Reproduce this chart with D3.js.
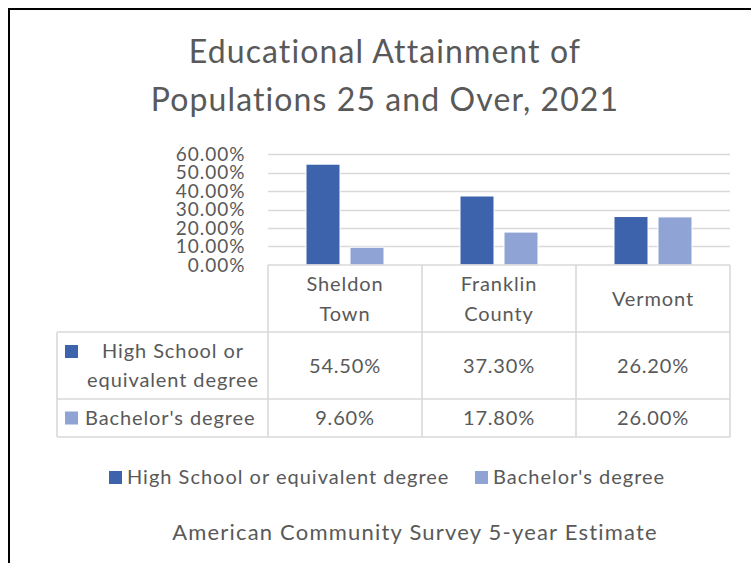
<!DOCTYPE html>
<html>
<head>
<meta charset="utf-8">
<script src="https://cdn.jsdelivr.net/npm/d3@7"></script>
<style>
  html, body { margin: 0; padding: 0; background: #fff; }
  svg { display: block; font-family: Lato, "Open Sans", sans-serif; }
</style>
</head>
<body>
<svg id="chart" width="751" height="563"></svg>
<script>
// Educational attainment, population 25 and over (ACS 5-year, 2021)
const categories = [["Sheldon", "Town"], ["Franklin", "County"], ["Vermont"]];
const seriesNames = ["High School or equivalent degree", "Bachelor's degree"];
const seriesRowLabels = [["High School or", "equivalent degree"], ["Bachelor's degree"]];
const highSchool = [0.545, 0.373, 0.262];
const bachelors = [0.096, 0.178, 0.26];
const yTicks = [0, 0.1, 0.2, 0.3, 0.4, 0.5, 0.6];
const colors = ["#3d63ad", "#8fa4d4"];

const textColor = "#595959";
const lineColor = "#d9d9d9";
const svg = d3.select("#chart");

// shared text styling: size in px plus tracking
function styled(sel, size, spacing) {
  return sel.attr("fill", textColor)
    .style("font-size", size + "px")
    .style("letter-spacing", spacing + "px");
}

// chart frame
svg.append("rect")
  .attr("x", 9).attr("y", 9).attr("width", 760).attr("height", 580)
  .attr("fill", "#fff").attr("stroke", "#000").attr("stroke-width", 2);

// title
const title = styled(svg.append("text").attr("text-anchor", "middle"), 32, 1.1);
title.append("tspan").attr("x", 385).attr("y", 63).text("Educational Attainment of");
title.append("tspan").attr("x", 385).attr("y", 111).text("Populations 25 and Over, 2021");

// scales
const catKeys = categories.map(c => c.join(" "));
const x = d3.scaleBand().domain(catKeys).range([268, 730]).paddingInner(0).paddingOuter(0);
const xs = d3.scaleBand().domain(seriesNames).range([38, 116]).paddingInner(0.2273);
const y = d3.scaleLinear().domain([0, 0.6]).range([265, 154]);
const values = [highSchool, bachelors];
const pct = d3.format(".2%");

// gridlines
svg.append("g").selectAll("line").data(yTicks.slice(1)).join("line")
  .attr("x1", 268).attr("x2", 730)
  .attr("y1", d => Math.round(y(d)) + 0.5).attr("y2", d => Math.round(y(d)) + 0.5)
  .attr("stroke", lineColor).attr("stroke-width", 1.6);

// y axis labels
const yAxis = d3.axisLeft(y).tickValues(yTicks).tickFormat(pct).tickSize(0).tickPadding(0);
const yg = svg.append("g").attr("transform", "translate(245.5,0)").call(yAxis);
yg.select(".domain").remove();
styled(yg.selectAll("text"), 19, 1)
  .style("font-family", "Lato, sans-serif").attr("dy", "0.34em");

// bars
seriesNames.forEach((s, si) => {
  svg.append("g").selectAll("rect").data(values[si]).join("rect")
    .attr("x", (d, i) => x(catKeys[i]) + xs(s))
    .attr("width", xs.bandwidth())
    .attr("y", d => y(d))
    .attr("height", d => y(0) - y(d))
    .attr("fill", colors[si])
    .attr("stroke", "#fff").attr("stroke-width", 1);
});

// data table grid
const rowY = [265, 332, 399, 437];
const tableLeft = 57;
const g = svg.append("g").attr("stroke", lineColor).attr("stroke-width", 1.6).attr("fill", "none");
g.append("line").attr("x1", 268).attr("x2", 730).attr("y1", rowY[0]).attr("y2", rowY[0]);
rowY.slice(1).forEach(ry => g.append("line").attr("x1", tableLeft).attr("x2", 730).attr("y1", ry).attr("y2", ry));
const colX = [268, ...catKeys.map(k => x(k) + x.bandwidth())];
colX.forEach(cx => g.append("line").attr("x1", cx).attr("x2", cx).attr("y1", rowY[0]).attr("y2", rowY[3]));
g.append("line").attr("x1", tableLeft).attr("x2", tableLeft).attr("y1", rowY[1]).attr("y2", rowY[3]);

// category header labels
const lineH = 30;
categories.forEach((c, i) => {
  const cx = x(catKeys[i]) + x.bandwidth() / 2;
  const cy = (rowY[0] + rowY[1]) / 2;
  const t = styled(svg.append("text").attr("text-anchor", "middle"), 20, 0.9);
  c.forEach((line, li) => {
    t.append("tspan").attr("x", cx)
      .attr("y", cy + (li - (c.length - 1) / 2) * lineH).attr("dy", "0.35em").text(line);
  });
});

// row labels with legend keys, then the values
seriesRowLabels.forEach((lines, si) => {
  const cy = (rowY[si + 1] + rowY[si + 2]) / 2;
  const keyY = lines.length > 1 ? cy - 14 : cy;
  svg.append("rect").attr("x", 65).attr("y", keyY - 6.5).attr("width", 13).attr("height", 13).attr("fill", colors[si]);
  const multi = lines.length > 1;
  const t = styled(svg.append("text").attr("text-anchor", multi ? "middle" : "start"), 20, 0.9);
  lines.forEach((line, li) => {
    t.append("tspan").attr("x", multi ? 173 : 85)
      .attr("y", cy + (li - (lines.length - 1) / 2) * 28.5).attr("dy", "0.35em").text(line);
  });
  styled(svg.append("g").selectAll("text").data(values[si]).join("text")
    .attr("x", (d, i) => x(catKeys[i]) + x.bandwidth() / 2)
    .attr("y", cy).attr("dy", "0.35em")
    .attr("text-anchor", "middle"), 20, 0.8)
    .text(d => pct(d));
});

// legend
const legend = svg.append("g");
const legendItems = [{x: 109, name: seriesNames[0]}, {x: 475, name: seriesNames[1]}];
legendItems.forEach((it, i) => {
  legend.append("rect").attr("x", it.x).attr("y", 471).attr("width", 13).attr("height", 13).attr("fill", colors[i]);
  styled(legend.append("text").attr("x", it.x + 18).attr("y", 477).attr("dy", "0.35em"), 20, 1)
    .text(it.name);
});

// source note
styled(svg.append("text").attr("x", 415).attr("y", 532).attr("dy", "0.35em")
  .attr("text-anchor", "middle"), 22, 1.2)
  .text("American Community Survey 5-year Estimate");
</script>
</body>
</html>
